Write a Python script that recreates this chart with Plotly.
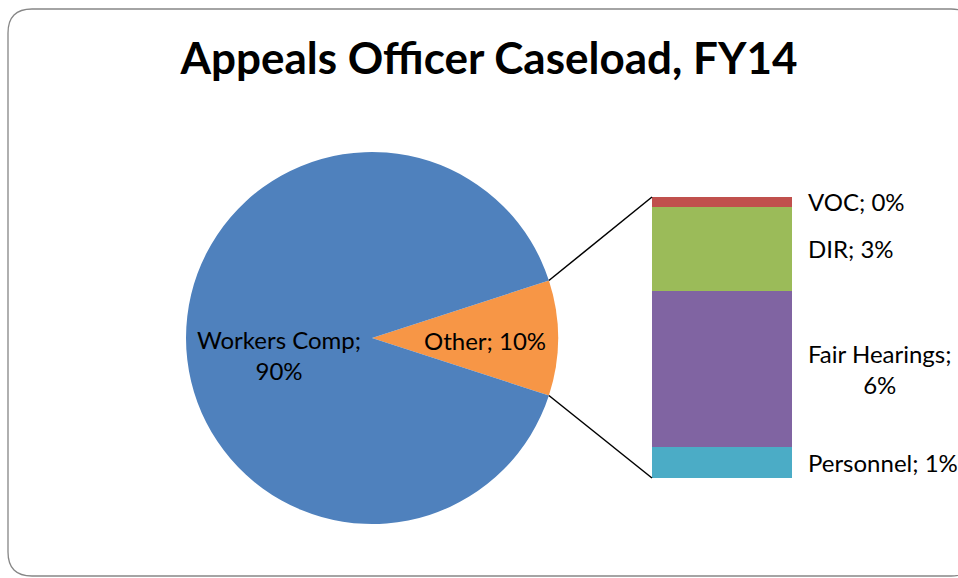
import math
import plotly.graph_objects as go

# ---- data ----
pie_labels = ["Other", "Workers Comp"]
pie_values = [10.0, 90.0]
pie_colors = ["#F79646", "#4F81BD"]

bar_labels = ["Personnel", "Fair Hearings", "DIR", "VOC"]
bar_values = [1.1, 5.55, 3.0, 0.35]
bar_colors = ["#4BACC6", "#8064A2", "#9BBB59", "#C0504D"]
bar_text = ["Personnel; 1%", "Fair Hearings;<br>6%", "DIR; 3%", "VOC; 0%"]

title_text = "Appeals Officer Caseload, FY14"

W, H = 958, 578
FONT = "Lato, 'Open Sans', sans-serif"
LBL = 24

# ---- layout geometry (pixels) ----
pie_cx, pie_cy, pie_r = 372, 338, 186
bar_x0, bar_x1 = 652, 792
bar_ytop, bar_ybot = 197, 478


def px(x):
    return x / W


def py(y):
    return 1 - y / H


fig = go.Figure()

rotation = 90 - 0.5 * pie_values[0] / sum(pie_values) * 360
fig.add_trace(go.Pie(
    labels=pie_labels, values=pie_values, sort=False, direction="clockwise",
    rotation=rotation, marker=dict(colors=pie_colors, line=dict(width=0)),
    textinfo="none", hoverinfo="label+percent", showlegend=False,
    domain=dict(x=[px(pie_cx - pie_r), px(pie_cx + pie_r)],
                y=[py(pie_cy + pie_r), py(pie_cy - pie_r)]),
))

for lab, val, col in zip(bar_labels, bar_values, bar_colors):
    fig.add_trace(go.Bar(
        x=[0], y=[val], name=lab, marker=dict(color=col, line=dict(width=0)),
        width=1, showlegend=False, xaxis="x", yaxis="y",
    ))

total_other = sum(bar_values)
fig.update_layout(
    barmode="stack",
    width=W, height=H,
    margin=dict(l=0, r=0, t=0, b=0),
    paper_bgcolor="white", plot_bgcolor="rgba(0,0,0,0)",
    font=dict(family=FONT, color="black"),
    xaxis=dict(domain=[px(bar_x0), px(bar_x1)], range=[-0.5, 0.5],
               visible=False, fixedrange=True),
    yaxis=dict(domain=[py(bar_ybot), py(bar_ytop)], range=[0, total_other],
               visible=False, fixedrange=True),
    title=dict(text="<b>" + title_text + "</b>", x=489 / W, xanchor="center",
               y=1 - 59 / H, yanchor="middle", yref="container",
               font=dict(size=44, family=FONT, color="black")),
)

# bar labels
cum = 0
for val, txt in zip(bar_values, bar_text):
    mid = cum + val / 2
    cum += val
    fig.add_annotation(x=0.5, y=mid, xref="x", yref="y", text=txt,
                       showarrow=False, xanchor="left", yanchor="middle",
                       xshift=14, align="center",
                       font=dict(size=LBL, family=FONT, color="black"))

# pie labels
half = 0.5 * pie_values[0] / sum(pie_values) * 2 * math.pi
wc_r, ot_r = 0.50, 0.61
fig.add_annotation(x=px(pie_cx - wc_r * pie_r), y=py(pie_cy + 17), xref="paper", yref="paper",
                   text="Workers Comp;<br>%d%%" % round(pie_values[1]), showarrow=False,
                   xanchor="center", yanchor="middle", align="center",
                   font=dict(size=LBL, family=FONT, color="black"))
fig.add_annotation(x=px(pie_cx + ot_r * pie_r), y=py(pie_cy + 2), xref="paper", yref="paper",
                   text="Other; %d%%" % round(pie_values[0]), showarrow=False,
                   xanchor="center", yanchor="middle",
                   font=dict(size=LBL, family=FONT, color="black"))

# connector lines
ex = pie_cx + pie_r * math.cos(half)
ey_top = pie_cy - pie_r * math.sin(half)
ey_bot = pie_cy + pie_r * math.sin(half)
for ey, by in [(ey_top, bar_ytop), (ey_bot, bar_ybot)]:
    fig.add_shape(type="line", xref="paper", yref="paper",
                  x0=px(ex), y0=py(ey), x1=px(bar_x0), y1=py(by),
                  line=dict(color="black", width=1.5))

# rounded chart border
L, T, R, B, rad = 8, 9, 975, 576, 24
path = (f"M {px(L)},{py(T + rad)} Q {px(L)},{py(T)} {px(L + rad)},{py(T)} "
        f"L {px(R - rad)},{py(T)} Q {px(R)},{py(T)} {px(R)},{py(T + rad)} "
        f"L {px(R)},{py(B - rad)} Q {px(R)},{py(B)} {px(R - rad)},{py(B)} "
        f"L {px(L + rad)},{py(B)} Q {px(L)},{py(B)} {px(L)},{py(B - rad)} Z")
fig.add_shape(type="path", path=path, xref="paper", yref="paper",
              line=dict(color="#868686", width=1.3), layer="below")

fig.write_html("out.html", config={"displayModeBar": False},
               post_script="document.body.style.margin='0';document.body.style.overflow='hidden';")
